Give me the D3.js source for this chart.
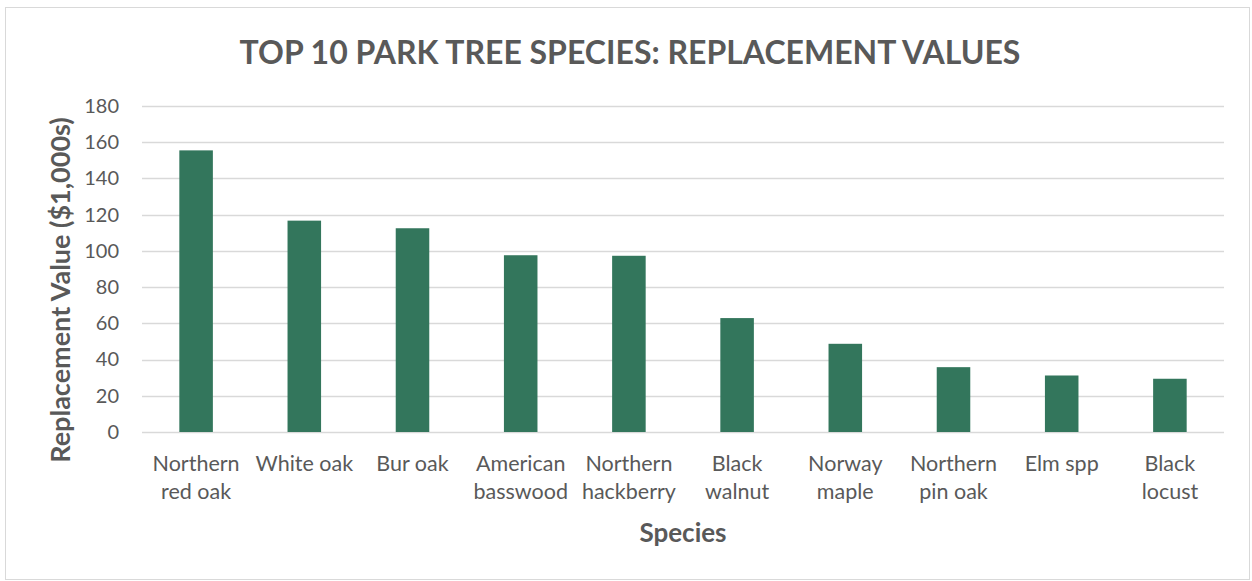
<!DOCTYPE html>
<html><head><meta charset="utf-8">
<script src="https://cdn.jsdelivr.net/npm/d3@7"></script>
<style>body{margin:0;background:#fff}svg{display:block}</style>
</head><body>
<script>
const categories = [["Northern","red oak"],["White oak"],["Bur oak"],["American","basswood"],["Northern","hackberry"],["Black","walnut"],["Norway","maple"],["Northern","pin oak"],["Elm spp"],["Black","locust"]];
const values = [155.5, 116.7, 112.5, 97.6, 97.3, 62.9, 48.7, 35.8, 31.2, 29.4];
const yTicks = [0,20,40,60,80,100,120,140,160,180];
const title = "TOP 10 PARK TREE SPECIES: REPLACEMENT VALUES";
const xTitle = "Species";
const yTitle = "Replacement Value ($1,000s)";

const W = 1252, H = 581;
const m = {left:142, right:1224, top:106, bottom:432};
const font = "Lato, 'Open Sans', sans-serif";
const svg = d3.select("body").append("svg").attr("width",W).attr("height",H);
svg.append("rect").attr("x",5.5).attr("y",7.5).attr("width",W-8).attr("height",H-9)
  .attr("fill","#fff").attr("stroke","#d9d9d9");

const labels = categories.map(c=>c.join(" "));
const x = d3.scaleBand().domain(labels).range([m.left,m.right]).paddingInner(0.69).paddingOuter(0.345);
const y = d3.scaleLinear().domain([0,180]).range([m.bottom,m.top]);

const grid = svg.append("g");
grid.selectAll("line").data(yTicks).join("line")
  .attr("x1",m.left).attr("x2",m.right)
  .attr("y1",d=>Math.round(y(d))+0.5).attr("y2",d=>Math.round(y(d))+0.5)
  .attr("stroke","#d9d9d9").attr("stroke-width",1.5);

const yAxis = svg.append("g").attr("transform",`translate(${m.left},0)`)
  .call(d3.axisLeft(y).tickValues(yTicks).tickSize(0).tickPadding(23));
yAxis.select(".domain").remove();
yAxis.selectAll("text").attr("font-family",font).attr("font-size",20).attr("fill","#595959");

svg.append("g").selectAll("rect").data(values).join("rect")
  .attr("x",(d,i)=>x(labels[i])).attr("width",x.bandwidth())
  .attr("y",d=>y(d)).attr("height",d=>y(0)-y(d))
  .attr("fill","#33765c");

const xl = svg.append("g");
categories.forEach((c,i)=>{
  const cx = x(labels[i])+x.bandwidth()/2;
  const t = xl.append("text").attr("x",cx).attr("y",471)
    .attr("text-anchor","middle").attr("font-family",font).attr("font-size",21.5).attr("fill","#595959");
  c.forEach((line,j)=>t.append("tspan").attr("x",cx).attr("dy",j?28:0).text(line));
});

svg.append("text").attr("x",630).attr("y",64).attr("text-anchor","middle")
  .attr("font-family",font).attr("font-weight","bold").attr("font-size",32).attr("fill","#595959").text(title);
svg.append("text").attr("x",683).attr("y",542).attr("text-anchor","middle")
  .attr("font-family",font).attr("font-weight","bold").attr("font-size",26).attr("fill","#595959").text(xTitle);
svg.append("text").attr("transform","translate(70,290) rotate(-90)").attr("text-anchor","middle")
  .attr("font-family",font).attr("font-weight","bold").attr("font-size",27).attr("fill","#595959").text(yTitle);
</script>
</body></html>
